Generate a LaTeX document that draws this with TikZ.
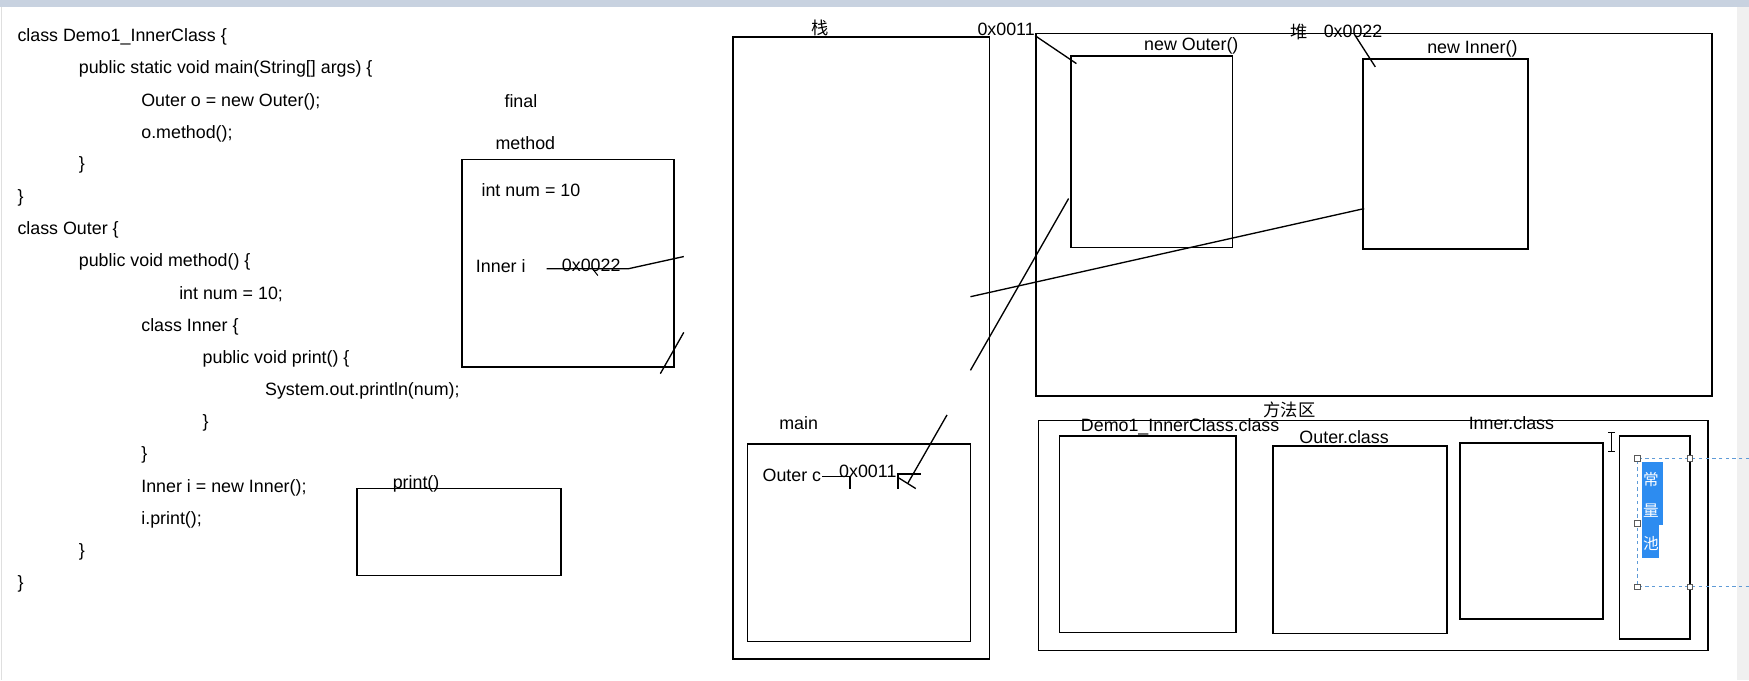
\documentclass[tikz,border=0pt]{standalone}
\usepackage{fontspec}
\setmainfont{Liberation Sans}
\newfontfamily\cjk{Noto Sans CJK SC}
\definecolor{selblue}{RGB}{45,140,240}
\definecolor{dashblue}{RGB}{95,155,215}
\definecolor{barblue}{RGB}{200,210,224}
\begin{document}
\begin{tikzpicture}[x=1pt, y=-1pt, line width=1.4pt,
    txt/.style={inner sep=0pt, font=\fontsize{16}{19}\selectfont, text height=10.5pt, text depth=4pt, yshift=-2pt},
    code/.style={txt, anchor=west},
    hand/.style={line width=1.2pt},
    handle/.style={draw=gray!70!black, fill=white, line width=0.6pt, minimum size=5pt, inner sep=0pt}]
  \useasboundingbox (0,0) rectangle (1568,610);
  \fill[barblue] (0,0) rectangle (1568,6);
  \fill[gray!12] (1557,6) rectangle (1568,610);
  \draw[gray!25, line width=1pt] (1.5,6) -- (1.5,610);

  \node[code] (c1) at (15,32) {class Demo1\_InnerClass \{};
  \node[code] (c2) at (70,61) {public static void main(String[] args) \{};
  \node[code] (c3) at (126,90) {Outer o = new Outer();};
  \node[code] (c4) at (126,119) {o.method();};
  \node[code] (c5) at (70,147) {\}};
  \node[code] (c6) at (15,176) {\}};
  \node[code] (c7) at (15,205) {class Outer \{};
  \node[code] (c8) at (70,234) {public void method() \{};
  \node[code] (c9) at (160,263) {int num = 10;};
  \node[code] (c10) at (126,292) {class Inner \{};
  \node[code] (c11) at (181,321) {public void print() \{};
  \node[code] (c12) at (237,349) {System.out.println(num);};
  \node[code] (c13) at (181,378) {\}};
  \node[code] (c14) at (126,407) {\}};
  \node[code] (c15) at (126,436) {Inner i = new Inner();};
  \node[code] (c16) at (126,465) {i.print();};
  \node[code] (c17) at (70,494) {\}};
  \node[code] (c18) at (15,522) {\}};

  \draw (414,143) rectangle (604,329);
  \node[txt] (final) at (467,91) {final};
  \node[txt] (methodlbl) at (471,129) {method};
  \node[code] (numvar) at (431,171) {int num = 10};
  \node[code] (innervar) at (426,239) {Inner i};
  \node[txt] (addrb) at (530,238) {0x0022};
  \coordinate (ib1) at (490,241);
  \coordinate (ib2) at (563,241);
  \coordinate (ib3) at (613,230);
  \draw[hand] (ib1) -- (ib2) -- (ib3);
  \draw[hand, line width=0.9pt] (532,242) -- (536,247);
  \draw[hand] (613,298) -- (592,335);

  \draw (320,438) rectangle (503,516);
  \node[txt] (printlbl) at (373,433) {print()};

  \draw (657,33) rectangle (887,591);
  \node[txt, font=\cjk\fontsize{15.5}{18}\selectfont] (stacklbl) at (735,26) {栈};
  \draw (670,398) rectangle (870,575);
  \node[txt] (mainlbl) at (716,380) {main};
  \node[code] (outervar) at (683,426) {Outer c};
  \node[txt] (addra) at (778,423) {0x0011};
  \draw[hand] (737,427) -- (762,427) -- (762,438);
  \draw[hand] (804,425) -- (826,425);
  \draw[hand] (805,425) -- (805,438);
  \draw[hand] (805,428) -- (821,438);

  \draw (929,30) rectangle (1535,355);
  \node[txt] (addrtopa) at (902,27) {0x0011};
  \node[txt, font=\cjk\fontsize{15.5}{18}\selectfont] (heaplbl) at (1165,29) {堆};
  \node[txt] (addrtopb) at (1213,28) {0x0022};
  \draw (960,50) rectangle (1105,222);
  \node[txt] (outerobj) at (1068,40) {new Outer()};
  \draw (1222,53) rectangle (1370,223);
  \node[txt] (innerobj) at (1320,43) {new Inner()};

  \coordinate (la1) at (849,372);
  \coordinate (la2) at (814,433);
  \coordinate (lb1) at (870,332);
  \coordinate (lb2) at (958,178);
  \coordinate (lc1) at (870,266);
  \coordinate (lc2) at (1223,187);
  \coordinate (ld1) at (928,32);
  \coordinate (ld2) at (965,57);
  \coordinate (le1) at (1215,32);
  \coordinate (le2) at (1233,60);
  \draw[hand] (la1) -- (la2);
  \draw[hand] (lb1) -- (lb2);
  \draw[hand] (lc1) -- (lc2);
  \draw[hand] (ld1) -- (ld2);
  \draw[hand] (le1) -- (le2);

  \draw (931,377) rectangle (1531,583);
  \node[txt, font=\cjk\fontsize{15.5}{18}\selectfont] (arealbl) at (1156,368) {方法区};
  \draw (950,391) rectangle (1108,567);
  \node[txt] (democls) at (1058,382) {Demo1\_InnerClass.class};
  \draw (1141,400) rectangle (1297,568);
  \node[txt] (outercls) at (1205,392) {Outer.class};
  \draw (1309,397) rectangle (1437,555);
  \node[txt] (innercls) at (1355,380) {Inner.class};
  \draw (1452,391) rectangle (1515,573);

  \fill[selblue] (1472,414) rectangle (1491,471);
  \fill[selblue] (1472,471) rectangle (1487,500);
  \node[txt, text=white, font=\cjk\fontsize{14}{16}\selectfont] (pool1) at (1480,430) {常};
  \node[txt, text=white, font=\cjk\fontsize{14}{16}\selectfont] (pool2) at (1480,458) {量};
  \node[txt, text=white, font=\cjk\fontsize{14}{16}\selectfont] (pool3) at (1480,487) {池};
  \draw[dashblue, dashed, line width=1pt] (1568,411) -- (1468,411) -- (1468,526) -- (1568,526);
  \node[handle] (h1) at (1468,411) {};
  \node[handle] (h2) at (1515,411) {};
  \node[handle] (h3) at (1468,469) {};
  \node[handle] (h4) at (1468,526) {};
  \node[handle] (h5) at (1515,526) {};
  \draw[line width=1pt] (1445,388) -- (1445,405) (1442,388) -- (1448,388) (1442,405) -- (1448,405);
\end{tikzpicture}
\end{document}
